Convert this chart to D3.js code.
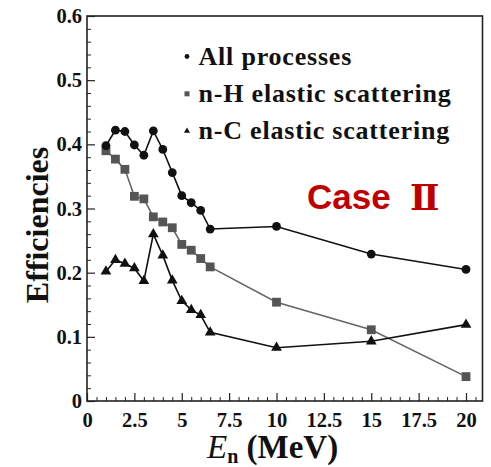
<!DOCTYPE html>
<html>
<head>
<meta charset="utf-8">
<script src="https://cdn.jsdelivr.net/npm/d3@7"></script>
<style>
  html, body { margin: 0; padding: 0; background: #fff; }
  svg { display: block; }
  text { font-family: "Liberation Serif", "Times New Roman", serif; font-weight: bold; }
</style>
</head>
<body>
<svg id="chart" width="491" height="467"></svg>
<script>
// Neutron energy (MeV) for every sample
const energies = [1, 1.5, 2, 2.5, 3, 3.5, 4, 4.5, 5, 5.5, 6, 6.5, 10, 15, 20];

// Detection efficiency per process
const allProcesses = [0.398, 0.422, 0.420, 0.399, 0.383, 0.421, 0.392, 0.356, 0.320, 0.309, 0.297, 0.268, 0.272, 0.229, 0.205];
const nHElastic    = [0.390, 0.377, 0.361, 0.319, 0.315, 0.287, 0.279, 0.270, 0.244, 0.235, 0.222, 0.209, 0.154, 0.111, 0.038];
const nCElastic    = [0.202, 0.220, 0.214, 0.207, 0.187, 0.260, 0.227, 0.188, 0.156, 0.142, 0.134, 0.107, 0.083, 0.093, 0.119];

const seriesNames = ["All processes", "n-H elastic scattering", "n-C elastic scattering"];

const xTicks = [0, 2.5, 5, 7.5, 10, 12.5, 15, 17.5, 20];
const yTicks = [0, 0.1, 0.2, 0.3, 0.4, 0.5, 0.6];

const svg = d3.select("#chart");
const plotLeft = 87, plotRight = 482.5, plotTop = 16, plotBottom = 401;

const x = d3.scaleLinear().domain([0, 20.87]).range([plotLeft, plotRight]);
const y = d3.scaleLinear().domain([0, 0.6]).range([plotBottom, plotTop]);

// Minor ticks (inside the frame)
const xMinor = d3.range(0, 20.87, 0.5).filter(v => Math.abs(v / 2.5 - Math.round(v / 2.5)) > 1e-6);
const yMinor = d3.range(0, 0.6001, 0.02).filter(v => Math.abs(v / 0.1 - Math.round(v / 0.1)) > 1e-6);

svg.append("g")
  .attr("transform", `translate(0,${plotBottom})`)
  .call(d3.axisBottom(x).tickValues(xMinor).tickSize(-4).tickFormat(""))
  .call(g => g.select(".domain").remove())
  .call(g => g.selectAll("line").attr("stroke", "#222").attr("stroke-width", 1));

svg.append("g")
  .attr("transform", `translate(${plotLeft},0)`)
  .call(d3.axisLeft(y).tickValues(yMinor).tickSize(-4).tickFormat(""))
  .call(g => g.select(".domain").remove())
  .call(g => g.selectAll("line").attr("stroke", "#222").attr("stroke-width", 1));

// Major ticks with labels
const xAxis = svg.append("g")
  .attr("transform", `translate(0,${plotBottom})`)
  .call(d3.axisBottom(x).tickValues(xTicks).tickSize(-8).tickPadding(11).tickFormat(d3.format("")))
  .call(g => g.select(".domain").remove());
xAxis.selectAll("line").attr("stroke", "#222").attr("stroke-width", 1.2);
xAxis.selectAll("text").attr("font-size", 20.5).attr("fill", "#111")
  .style("font-family", "'Liberation Serif', serif").style("font-weight", "bold");

const yAxis = svg.append("g")
  .attr("transform", `translate(${plotLeft},0)`)
  .call(d3.axisLeft(y).tickValues(yTicks).tickSize(-8).tickPadding(5).tickFormat(d3.format("")))
  .call(g => g.select(".domain").remove());
yAxis.selectAll("line").attr("stroke", "#222").attr("stroke-width", 1.2);
yAxis.selectAll("text").attr("font-size", 20.5).attr("fill", "#111")
  .style("font-family", "'Liberation Serif', serif").style("font-weight", "bold");

// Frame
svg.append("rect")
  .attr("x", plotLeft).attr("y", plotTop)
  .attr("width", plotRight - plotLeft).attr("height", plotBottom - plotTop)
  .attr("fill", "none").attr("stroke", "#222").attr("stroke-width", 1.6);

// Series
const line = d3.line().x(d => x(d[0])).y(d => y(d[1]));
const pts = vals => energies.map((e, i) => [e, vals[i]]);

const tri = d3.symbol().type(d3.symbolTriangle);

function drawSeries(vals, lineColor, markerColor, shape) {
  const data = pts(vals);
  svg.append("path").datum(data).attr("d", line)
    .attr("fill", "none").attr("stroke", lineColor).attr("stroke-width", 1.6);
  const g = svg.append("g");
  data.forEach(d => {
    if (shape === "circle") {
      g.append("circle").attr("cx", x(d[0])).attr("cy", y(d[1])).attr("r", 4.4).attr("fill", markerColor);
    } else if (shape === "square") {
      g.append("rect").attr("x", x(d[0]) - 4.4).attr("y", y(d[1]) - 4.4)
        .attr("width", 8.8).attr("height", 8.8).attr("fill", markerColor);
    } else {
      g.append("path").attr("d", tri.size(50)())
        .attr("transform", `translate(${x(d[0])},${y(d[1])})`).attr("fill", markerColor);
    }
  });
}

drawSeries(nHElastic, "#666", "#555", "square");
drawSeries(nCElastic, "#111", "#111", "triangle");
drawSeries(allProcesses, "#111", "#111", "circle");

// Legend
const legend = svg.append("g");
const legendRows = [
  { name: seriesNames[0], shape: "circle", color: "#111" },
  { name: seriesNames[1], shape: "square", color: "#555" },
  { name: seriesNames[2], shape: "triangle", color: "#111" }
];
legendRows.forEach((r, i) => {
  const by = 64.5 + i * 37.3;
  const my = by - 8;
  if (r.shape === "circle") {
    legend.append("circle").attr("cx", 187).attr("cy", my).attr("r", 2.4).attr("fill", r.color);
  } else if (r.shape === "square") {
    legend.append("rect").attr("x", 184.5).attr("y", my - 2.5).attr("width", 5).attr("height", 5).attr("fill", r.color);
  } else {
    legend.append("path").attr("d", tri.size(16)()).attr("transform", `translate(187,${my})`).attr("fill", r.color);
  }
  legend.append("text").attr("x", 198.5).attr("y", by)
    .attr("font-size", 26).attr("letter-spacing", 0.8).attr("fill", "#111").text(r.name);
});

// Case label
svg.append("text").attr("x", 307).attr("y", 209).attr("fill", "#c00000")
  .style("font-family", "'Liberation Sans', Arial, sans-serif").style("font-weight", "bold")
  .attr("font-size", 35).text("Case");
svg.append("text").attr("x", 410).attr("y", 210).attr("fill", "#c00000")
  .style("font-family", "'DejaVu Serif', serif").style("font-weight", "bold")
  .attr("font-size", 35).text("Ⅱ");

// Axis titles
svg.append("text")
  .attr("transform", "translate(48,225) rotate(-90)")
  .attr("text-anchor", "middle").attr("font-size", 32).attr("fill", "#111")
  .text("Efficiencies");

const xTitle = svg.append("text").attr("x", 207).attr("y", 458).attr("font-size", 33).attr("fill", "#111");
xTitle.append("tspan").style("font-style", "italic").style("font-weight", "normal").text("E");
xTitle.append("tspan").attr("font-size", 20).attr("dy", 5).text("n");
xTitle.append("tspan").attr("dy", -5).text(" (MeV)");
</script>
</body>
</html>
